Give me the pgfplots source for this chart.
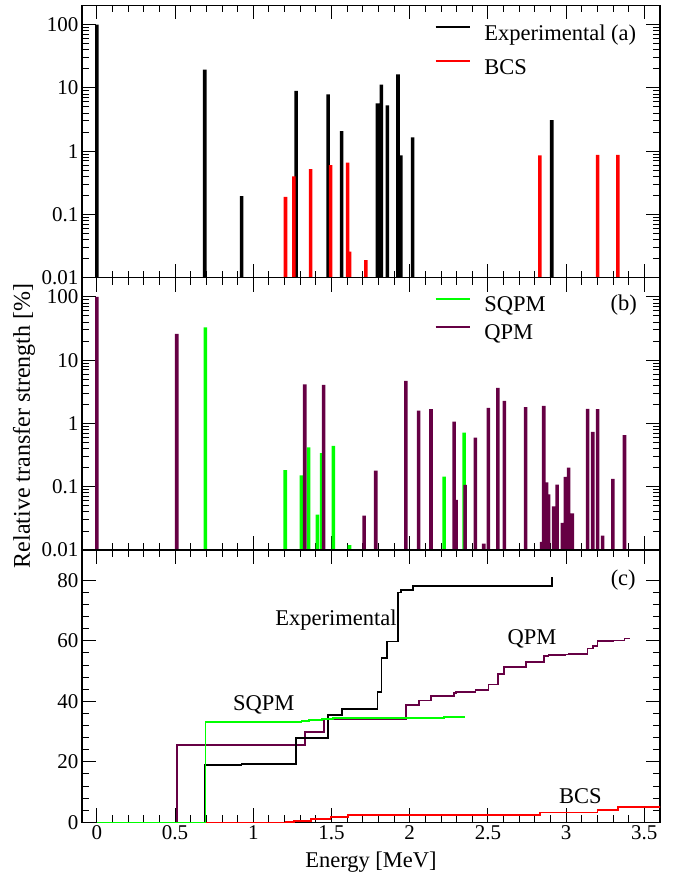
\documentclass[border=0pt]{standalone}
\usepackage{fontspec}
\setmainfont{Liberation Serif}
\usepackage{pgfplots}
\pgfplotsset{compat=1.18}
\definecolor{qpm}{RGB}{102,0,68}
\definecolor{sqpm}{RGB}{0,255,0}
\definecolor{bcs}{RGB}{255,0,0}

\pgfplotsset{
  common/.style={
    scale only axis, width=578pt, height=272.3pt,
    xmin=-0.095, xmax=3.6,
    axis line style={line width=1.3pt},
    every tick/.style={line width=1pt, black},
    major tick length=14pt, minor tick length=7pt,
    xtick={0,0.5,1,1.5,2,2.5,3,3.5}, minor x tick num=4,
    tick align=inside,
    xticklabels={},
    tick label style={font=\fontsize{21}{21}\selectfont},
    /pgf/number format/assume math mode=true,
  },
  bars/.style={ybar, bar width=3.6pt, bar shift=0pt, draw=none, fill=#1, forget plot},
}

\begin{document}
\begin{tikzpicture}
\useasboundingbox (0pt,0pt) rectangle (686pt,-879pt);

% ---------- panel (a)
\begin{axis}[common, ymode=log, ymin=0.01, ymax=200,
  ytick={0.01,0.1,1,10,100}, yticklabels={0.01,0.1,1,10,100},
  log origin y=infty,
  at={(82pt,-5.5pt)}, anchor=north west,
  legend image code/.code={\draw[#1] (0pt,7.5pt) -- (34pt,7.5pt);},
  legend cell align=left,
  legend style={draw=none, fill=none, inner sep=0pt, at={(rel axis cs:0.6097,0.939)}, anchor=north west,
    font=\fontsize{22.5}{27}\selectfont, row sep=9pt,
    nodes={inner xsep=13.5pt, inner ysep=2pt, text height=16pt, text depth=5pt}},
]
\addplot[bars=black] coordinates {
(0,100) (0.69,19.5) (0.925,0.195) (1.274,9.0) (1.478,7.9) (1.565,2.07)
(1.794,5.7) (1.819,11.3) (1.857,5.3) (1.925,16.3) (1.943,0.855) (2.019,1.65) (2.908,3.09)};
\addplot[bars=bcs] coordinates {
(1.206,0.19) (1.259,0.40) (1.367,0.52) (1.494,0.60) (1.603,0.66) (1.616,0.026)
(1.72,0.019) (2.832,0.855) (3.201,0.875) (3.331,0.875)};
\addlegendimage{black, line width=2.2pt}
\addlegendentry{Experimental (a)}
\addlegendimage{bcs, line width=2.2pt}
\addlegendentry{BCS}
\end{axis}

% ---------- panel (b)
\begin{axis}[common, ymode=log, ymin=0.01, ymax=200,
  ytick={0.01,0.1,1,10,100}, yticklabels={0.01,0.1,1,10,100},
  log origin y=infty,
  at={(82pt,-277.8pt)}, anchor=north west,
  legend image code/.code={\draw[#1] (0pt,7.5pt) -- (34pt,7.5pt);},
  legend cell align=left,
  legend style={draw=none, fill=none, inner sep=0pt, at={(rel axis cs:0.6097,0.942)}, anchor=north west,
    font=\fontsize{22.5}{27}\selectfont, row sep=3pt,
    nodes={inner xsep=13.5pt, inner ysep=2pt, text height=16pt, text depth=5pt}},
]
\addplot[bars=sqpm] coordinates {
(0.694,32.9) (1.204,0.184) (1.308,0.152) (1.354,0.42) (1.41,0.0365) (1.437,0.34)
(1.512,0.445) (1.615,0.012) (2.22,0.145) (2.348,0.72)};
\addplot[bars=qpm] coordinates {
(0,100) (0.511,26.1) (1.329,4.16) (1.45,4.07) (1.709,0.035) (1.783,0.18)
(1.975,4.7) (2.057,1.6) (2.136,1.68) (2.284,1.07) (2.297,0.062) (2.354,0.107)
(2.42,0.60) (2.473,0.0127) (2.503,1.77) (2.564,3.65) (2.605,2.28) (2.741,1.81)
(2.843,0.0135) (2.857,1.9) (2.875,0.118) (2.887,0.076) (2.92,0.049) (2.942,0.108)
(2.977,0.027) (2.995,0.143) (3.016,0.20) (3.04,0.038) (3.137,1.70) (3.17,0.74)
(3.201,1.68) (3.233,0.017) (3.299,0.133) (3.373,0.655)};
\addlegendimage{sqpm, line width=2.2pt}
\addlegendentry{SQPM}
\addlegendimage{qpm, line width=2.2pt}
\addlegendentry{QPM}
\node[font=\fontsize{22.5}{27}\selectfont] at (axis cs:3.368,75) {(b)};
\end{axis}

% ---------- panel (c)
\begin{axis}[common, at={(82pt,-550.1pt)}, anchor=north west,
  ymin=0, ymax=90, ytick={0,20,40,60,80}, minor y tick num=4,
  xticklabels={0,0.5,1,1.5,2,2.5,3,3.5},
]
\addplot[const plot, bcs, line width=1.8pt] coordinates {
(0,0) (1.206,0.19) (1.259,0.59) (1.367,1.1) (1.494,1.7) (1.603,2.35) (1.616,2.4)
(1.72,2.4) (2.832,3.25) (3.201,4.1) (3.331,5.0) (3.7,5.0)};
\addplot[const plot, qpm, line width=1.8pt] coordinates {
(0,0) (0.511,25.6) (1.329,29.8) (1.45,34.0) (1.709,34.05) (1.783,34.2) (1.975,38.7)
(2.057,40.3) (2.136,41.9) (2.284,42.9) (2.297,43.0) (2.354,43.1) (2.42,43.8)
(2.473,43.8) (2.503,45.6) (2.564,49.1) (2.605,51.3) (2.741,53.1) (2.857,55.0)
(2.875,55.1) (2.887,55.2) (2.92,55.25) (2.942,55.35) (2.995,55.5) (3.016,55.7)
(3.04,55.75) (3.137,57.5) (3.17,58.3) (3.201,60.0) (3.233,60.0) (3.299,60.15)
(3.373,60.8) (3.41,60.8)};
\addplot[const plot, black, line width=1.8pt] coordinates {
(0,0) (0.69,19.0) (0.925,19.2) (1.274,27.8) (1.478,35.6) (1.565,37.6) (1.794,43.2)
(1.819,54.3) (1.857,59.8) (1.925,76.0) (1.943,76.7) (2.019,78.2) (2.908,81.0)};
\addplot[const plot, sqpm, line width=1.8pt] coordinates {
(0,0) (0.694,33.1) (1.204,33.3) (1.308,33.45) (1.354,33.85) (1.41,33.9) (1.437,34.2)
(1.512,34.6) (1.615,34.6) (2.22,34.75) (2.348,35.3)};
\node[font=\fontsize{22.5}{27}\selectfont, anchor=west] at (axis cs:1.118,67.0) {Experimental};
\node[font=\fontsize{22.5}{27}\selectfont] at (axis cs:1.067,38.8) {SQPM};
\node[font=\fontsize{22.5}{27}\selectfont] at (axis cs:2.782,60.7) {QPM};
\node[font=\fontsize{22.5}{27}\selectfont] at (axis cs:3.091,8.7) {BCS};
\node[font=\fontsize{22.5}{27}\selectfont] at (axis cs:3.365,80.2) {(c)};
\end{axis}

\node[rotate=90, font=\fontsize{24}{24}\selectfont] at (24pt,-426pt) {Relative transfer strength [\%]};
\node[font=\fontsize{22.5}{27}\selectfont] at (371pt,-861.7pt) {Energy [MeV]};
\end{tikzpicture}
\end{document}
